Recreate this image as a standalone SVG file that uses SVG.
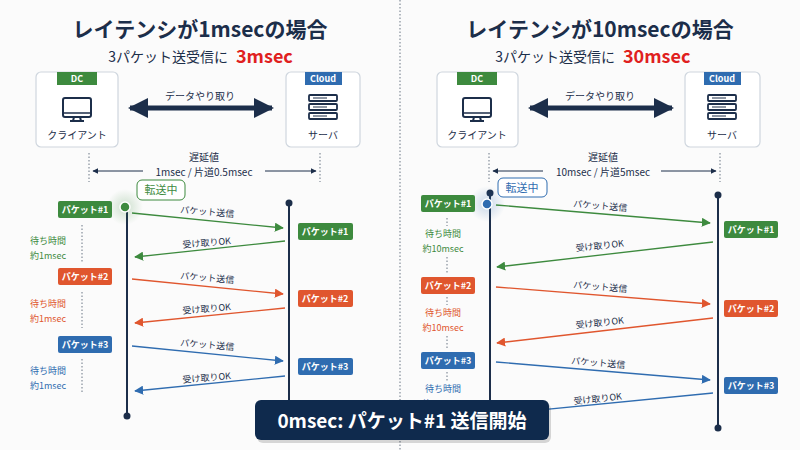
<svg xmlns="http://www.w3.org/2000/svg" width="800" height="450" viewBox="0 0 800 450">
<defs>
<style>
text{font-family:"Noto Sans CJK JP","Noto Sans",sans-serif;}
.t{font-size:21px;font-weight:bold;fill:#1c2e4a;text-anchor:middle}
.st{font-size:14px;fill:#1c2e4a}
.red{font-size:18px;font-weight:bold;fill:#e02020}
.box{fill:#fff;stroke:#cfd6de;stroke-width:1.2}
.lbl{font-size:10px;fill:#1c2e4a;text-anchor:middle}
.sm{font-size:9px;fill:#1c2e4a;text-anchor:middle}
.tag{font-size:9px;font-weight:bold;fill:#fff;text-anchor:middle}
.pk{font-size:9px;font-weight:bold;fill:#fff;text-anchor:middle}
.tl{stroke:#1c2e4a;stroke-width:2}
.dot{stroke:#6b7785;stroke-width:1;stroke-dasharray:1.5 2;fill:none}
.g{fill:#3d8a3e}.o{fill:#e0562e}.b{fill:#2f6cb0}
.gs{stroke:#3d8a3e;stroke-width:1.3;fill:none}
.os{stroke:#e0562e;stroke-width:1.3;fill:none}
.bs{stroke:#2f6cb0;stroke-width:1.3;fill:none}
.w{font-size:9px;text-anchor:middle}
</style>
<marker id="ag" viewBox="0 0 10 10" refX="9" refY="5" markerWidth="7" markerHeight="7" orient="auto"><path d="M0,0L10,5L0,10z" fill="#3d8a3e"/></marker>
<marker id="ao" viewBox="0 0 10 10" refX="9" refY="5" markerWidth="7" markerHeight="7" orient="auto"><path d="M0,0L10,5L0,10z" fill="#e0562e"/></marker>
<marker id="ab" viewBox="0 0 10 10" refX="9" refY="5" markerWidth="7" markerHeight="7" orient="auto"><path d="M0,0L10,5L0,10z" fill="#2f6cb0"/></marker>
<marker id="an" viewBox="0 0 10 10" refX="9" refY="5" markerWidth="6" markerHeight="6" orient="auto-start-reverse"><path d="M0,0L10,5L0,10z" fill="#1c2e4a"/></marker>
<marker id="big" viewBox="0 0 10 10" refX="9" refY="5" markerWidth="4" markerHeight="4" orient="auto-start-reverse"><path d="M0,0L10,5L0,10z" fill="#1c2e4a"/></marker>
<radialGradient id="glowg"><stop offset="0" stop-color="#3d8a3e" stop-opacity="0.25"/><stop offset="1" stop-color="#3d8a3e" stop-opacity="0"/></radialGradient>
<radialGradient id="glowb"><stop offset="0" stop-color="#2f6cb0" stop-opacity="0.25"/><stop offset="1" stop-color="#2f6cb0" stop-opacity="0"/></radialGradient>
<g id="mon"><rect x="-14" y="-12" width="28" height="19" rx="2" fill="none" stroke="#1c2e4a" stroke-width="2"/><line x1="-14" y1="3" x2="14" y2="3" stroke="#1c2e4a" stroke-width="1.5"/><path d="M-3,7L-4,11M3,7L4,11M-7,11H7" stroke="#1c2e4a" stroke-width="2" fill="none"/></g>
<g id="srv"><rect x="-14" y="-12" width="28" height="6" rx="1" fill="none" stroke="#1c2e4a" stroke-width="1.8"/><rect x="-14" y="-3" width="28" height="6" rx="1" fill="none" stroke="#1c2e4a" stroke-width="1.8"/><rect x="-14" y="6" width="28" height="6" rx="1" fill="none" stroke="#1c2e4a" stroke-width="1.8"/><path d="M-10,-9H4M-10,0H4M-10,9H4" stroke="#1c2e4a" stroke-width="1.2"/></g>
</defs>
<rect width="800" height="450" fill="#fbfbfb"/>
<line x1="400" y1="0" x2="400" y2="450" class="dot" stroke="#d5d9de"/>

<g id="left-title">
<text x="200" y="37" class="t">レイテンシが1msecの場合</text>
<text x="228" y="62" class="st" text-anchor="end">3パケット送受信に</text>
<text x="236" y="63" class="red">3msec</text>
</g>
<g id="L-dc">
<rect x="36" y="72" width="82" height="75" rx="5" class="box"/>
<rect x="57" y="72" width="40" height="13" class="g"/><text x="77" y="82" class="tag">DC</text>
<use href="#mon" x="77" y="110"/>
<text x="77" y="139" class="lbl">クライアント</text>
</g>
<g id="L-cloud">
<rect x="286" y="72" width="74" height="75" rx="5" class="box"/>
<rect x="305" y="72" width="37" height="13" class="b"/><text x="323" y="82" class="tag">Cloud</text>
<use href="#srv" x="323" y="107"/>
<text x="323" y="139" class="lbl">サーバ</text>
</g>
<g id="L-conn">
<line x1="130" y1="108" x2="272" y2="108" stroke="#1c2e4a" stroke-width="5" marker-start="url(#big)" marker-end="url(#big)"/>
<text x="200" y="100" class="lbl">データやり取り</text>
<line x1="89" y1="153" x2="89" y2="182" class="dot"/><line x1="320" y1="153" x2="320" y2="182" class="dot"/>
<line x1="93" y1="171" x2="316" y2="171" stroke="#1c2e4a" stroke-width="1" marker-start="url(#an)" marker-end="url(#an)"/>
<rect x="143" y="164" width="122" height="14" fill="#fbfbfb"/>
<text x="204" y="161" class="lbl">遅延値</text>
<text x="204" y="176" class="lbl">1msec / 片道0.5msec</text>
<line x1="127" y1="207" x2="127" y2="416" class="tl"/><circle cx="127" cy="416" r="3.5" fill="#1c2e4a"/>
<line x1="289" y1="203" x2="289" y2="400" class="tl"/><circle cx="289" cy="203" r="3.5" fill="#1c2e4a"/>
<circle cx="125" cy="207" r="18" fill="url(#glowg)"/>
<circle cx="125" cy="207" r="5" class="g" stroke="#fff" stroke-width="1.5"/>
<line x1="132" y1="213" x2="283" y2="228" class="gs" marker-end="url(#ag)"/>
<line x1="285" y1="241" x2="135" y2="257" class="gs" marker-end="url(#ag)"/>
<line x1="132" y1="279" x2="283" y2="294" class="os" marker-end="url(#ao)"/>
<line x1="285" y1="308" x2="135" y2="323" class="os" marker-end="url(#ao)"/>
<line x1="132" y1="346" x2="283" y2="361" class="bs" marker-end="url(#ab)"/>
<line x1="285" y1="376" x2="135" y2="391" class="bs" marker-end="url(#ab)"/>
<text x="207" y="215" class="sm" transform="rotate(5 207 215)">パケット送信</text>
<text x="207" y="246" class="sm" transform="rotate(-5 207 246)">受け取りOK</text>
<text x="207" y="281" class="sm" transform="rotate(5 207 281)">パケット送信</text>
<text x="207" y="312" class="sm" transform="rotate(-5 207 312)">受け取りOK</text>
<text x="207" y="348" class="sm" transform="rotate(5 207 348)">パケット送信</text>
<text x="207" y="381" class="sm" transform="rotate(-5 207 381)">受け取りOK</text>
<line x1="82" y1="225" x2="82" y2="262" class="dot"/>
<line x1="82" y1="292" x2="82" y2="328" class="dot"/>
<line x1="82" y1="359" x2="82" y2="393" class="dot"/>
</g>
<g id="L-tenso"><rect x="137" y="180" width="48" height="20" rx="5" fill="#fff" stroke="#3d8a3e"/><text x="161" y="194" font-size="11" fill="#3d8a3e" text-anchor="middle">転送中</text></g>
<g id="L-pk1"><rect x="58" y="201" width="54" height="17" rx="2" class="g"/><text x="85" y="213" class="pk">パケット#1</text></g>
<g id="L-pk2"><rect x="58" y="268" width="54" height="17" rx="2" class="o"/><text x="85" y="280" class="pk">パケット#2</text></g>
<g id="L-pk3"><rect x="58" y="336" width="54" height="17" rx="2" class="b"/><text x="85" y="348" class="pk">パケット#3</text></g>
<g id="L-rpk1"><rect x="298" y="223" width="55" height="17" rx="2" class="g"/><text x="325" y="235" class="pk">パケット#1</text></g>
<g id="L-rpk2"><rect x="298" y="290" width="55" height="17" rx="2" class="o"/><text x="325" y="302" class="pk">パケット#2</text></g>
<g id="L-rpk3"><rect x="298" y="358" width="55" height="17" rx="2" class="b"/><text x="325" y="370" class="pk">パケット#3</text></g>
<g id="L-wait">
<text x="48" y="244" class="w g">待ち時間</text><text x="48" y="259" class="w g">約1msec</text>
<text x="48" y="307" class="w o">待ち時間</text><text x="48" y="322" class="w o">約1msec</text>
<text x="48" y="374" class="w b">待ち時間</text><text x="48" y="389" class="w b">約1msec</text>
</g>

<g id="right-title">
<text x="600" y="37" class="t">レイテンシが10msecの場合</text>
<text x="615" y="62" class="st" text-anchor="end">3パケット送受信に</text>
<text x="623" y="63" class="red">30msec</text>
</g>
<g id="R-dc">
<rect x="437" y="72" width="81" height="75" rx="5" class="box"/>
<rect x="457" y="72" width="40" height="13" class="g"/><text x="477" y="82" class="tag">DC</text>
<use href="#mon" x="477" y="110"/>
<text x="477" y="139" class="lbl">クライアント</text>
</g>
<g id="R-cloud">
<rect x="685" y="72" width="75" height="75" rx="5" class="box"/>
<rect x="704" y="72" width="37" height="13" class="b"/><text x="722" y="82" class="tag">Cloud</text>
<use href="#srv" x="722" y="107"/>
<text x="722" y="139" class="lbl">サーバ</text>
</g>
<g id="R-conn">
<line x1="530" y1="108" x2="672" y2="108" stroke="#1c2e4a" stroke-width="5" marker-start="url(#big)" marker-end="url(#big)"/>
<text x="600" y="100" class="lbl">データやり取り</text>
<line x1="489" y1="153" x2="489" y2="182" class="dot"/><line x1="720" y1="153" x2="720" y2="182" class="dot"/>
<line x1="493" y1="171" x2="716" y2="171" stroke="#1c2e4a" stroke-width="1" marker-start="url(#an)" marker-end="url(#an)"/>
<rect x="543" y="164" width="118" height="14" fill="#fbfbfb"/>
<text x="603" y="161" class="lbl">遅延値</text>
<text x="603" y="176" class="lbl">10msec / 片道5msec</text>
<line x1="490" y1="193" x2="490" y2="420" class="tl"/><circle cx="490" cy="193" r="3.5" fill="#1c2e4a"/>
<line x1="718" y1="195" x2="718" y2="428" class="tl"/><circle cx="718" cy="195" r="3.5" fill="#1c2e4a"/><circle cx="718" cy="428" r="3.5" fill="#1c2e4a"/>
<circle cx="487" cy="204" r="18" fill="url(#glowb)"/>
<circle cx="487" cy="204" r="5" class="b" stroke="#fff" stroke-width="1.5"/>
<line x1="496" y1="205" x2="710" y2="223" class="gs" marker-end="url(#ag)"/>
<line x1="713" y1="242" x2="497" y2="267" class="gs" marker-end="url(#ag)"/>
<line x1="496" y1="287" x2="710" y2="304" class="os" marker-end="url(#ao)"/>
<line x1="713" y1="318" x2="497" y2="343" class="os" marker-end="url(#ao)"/>
<line x1="496" y1="362" x2="710" y2="380" class="bs" marker-end="url(#ab)"/>
<line x1="713" y1="393" x2="500" y2="414" class="bs"/>
<text x="600" y="209" class="sm" transform="rotate(5 600 209)">パケット送信</text>
<text x="600" y="249" class="sm" transform="rotate(-6 600 249)">受け取りOK</text>
<text x="600" y="290" class="sm" transform="rotate(5 600 290)">パケット送信</text>
<text x="600" y="326" class="sm" transform="rotate(-6 600 326)">受け取りOK</text>
<text x="598" y="366" class="sm" transform="rotate(5 598 366)">パケット送信</text>
<text x="598" y="402" class="sm" transform="rotate(-6 598 402)">受け取りOK</text>
<line x1="447" y1="218" x2="447" y2="226" class="dot"/><line x1="447" y1="257" x2="447" y2="274" class="dot"/>
<line x1="447" y1="297" x2="447" y2="305" class="dot"/><line x1="447" y1="336" x2="447" y2="349" class="dot"/>
<line x1="447" y1="372" x2="447" y2="381" class="dot"/>
</g>
<g id="R-tenso"><rect x="498" y="178" width="49" height="19" rx="5" fill="#fff" stroke="#2f6cb0"/><text x="522" y="192" font-size="11" fill="#2f6cb0" text-anchor="middle">転送中</text></g>
<g id="R-pk1"><rect x="421" y="195" width="54" height="17" rx="2" class="g"/><text x="448" y="207" class="pk">パケット#1</text></g>
<g id="R-pk2"><rect x="421" y="277" width="54" height="17" rx="2" class="o"/><text x="448" y="289" class="pk">パケット#2</text></g>
<g id="R-pk3"><rect x="421" y="352" width="54" height="17" rx="2" class="b"/><text x="448" y="364" class="pk">パケット#3</text></g>
<g id="R-rpk1"><rect x="724" y="221" width="54" height="17" rx="2" class="g"/><text x="751" y="233" class="pk">パケット#1</text></g>
<g id="R-rpk2"><rect x="724" y="300" width="54" height="17" rx="2" class="o"/><text x="751" y="312" class="pk">パケット#2</text></g>
<g id="R-rpk3"><rect x="724" y="377" width="54" height="17" rx="2" class="b"/><text x="751" y="389" class="pk">パケット#3</text></g>
<g id="R-wait">
<text x="443" y="237" class="w g">待ち時間</text><text x="443" y="252" class="w g">約10msec</text>
<text x="443" y="316" class="w o">待ち時間</text><text x="443" y="331" class="w o">約10msec</text>
<text x="443" y="392" class="w b">待ち時間</text><text x="443" y="407" class="w b">約10msec</text>
</g>

<g id="banner">
<rect x="257" y="403" width="294" height="40" rx="6" fill="#000" opacity="0.15"/>
<rect x="255" y="400" width="294" height="40" rx="6" fill="#0f2a4d"/>
<text x="402" y="428" font-size="19" font-weight="bold" fill="#fff" text-anchor="middle">0msec: パケット#1 送信開始</text>
</g>
</svg>
